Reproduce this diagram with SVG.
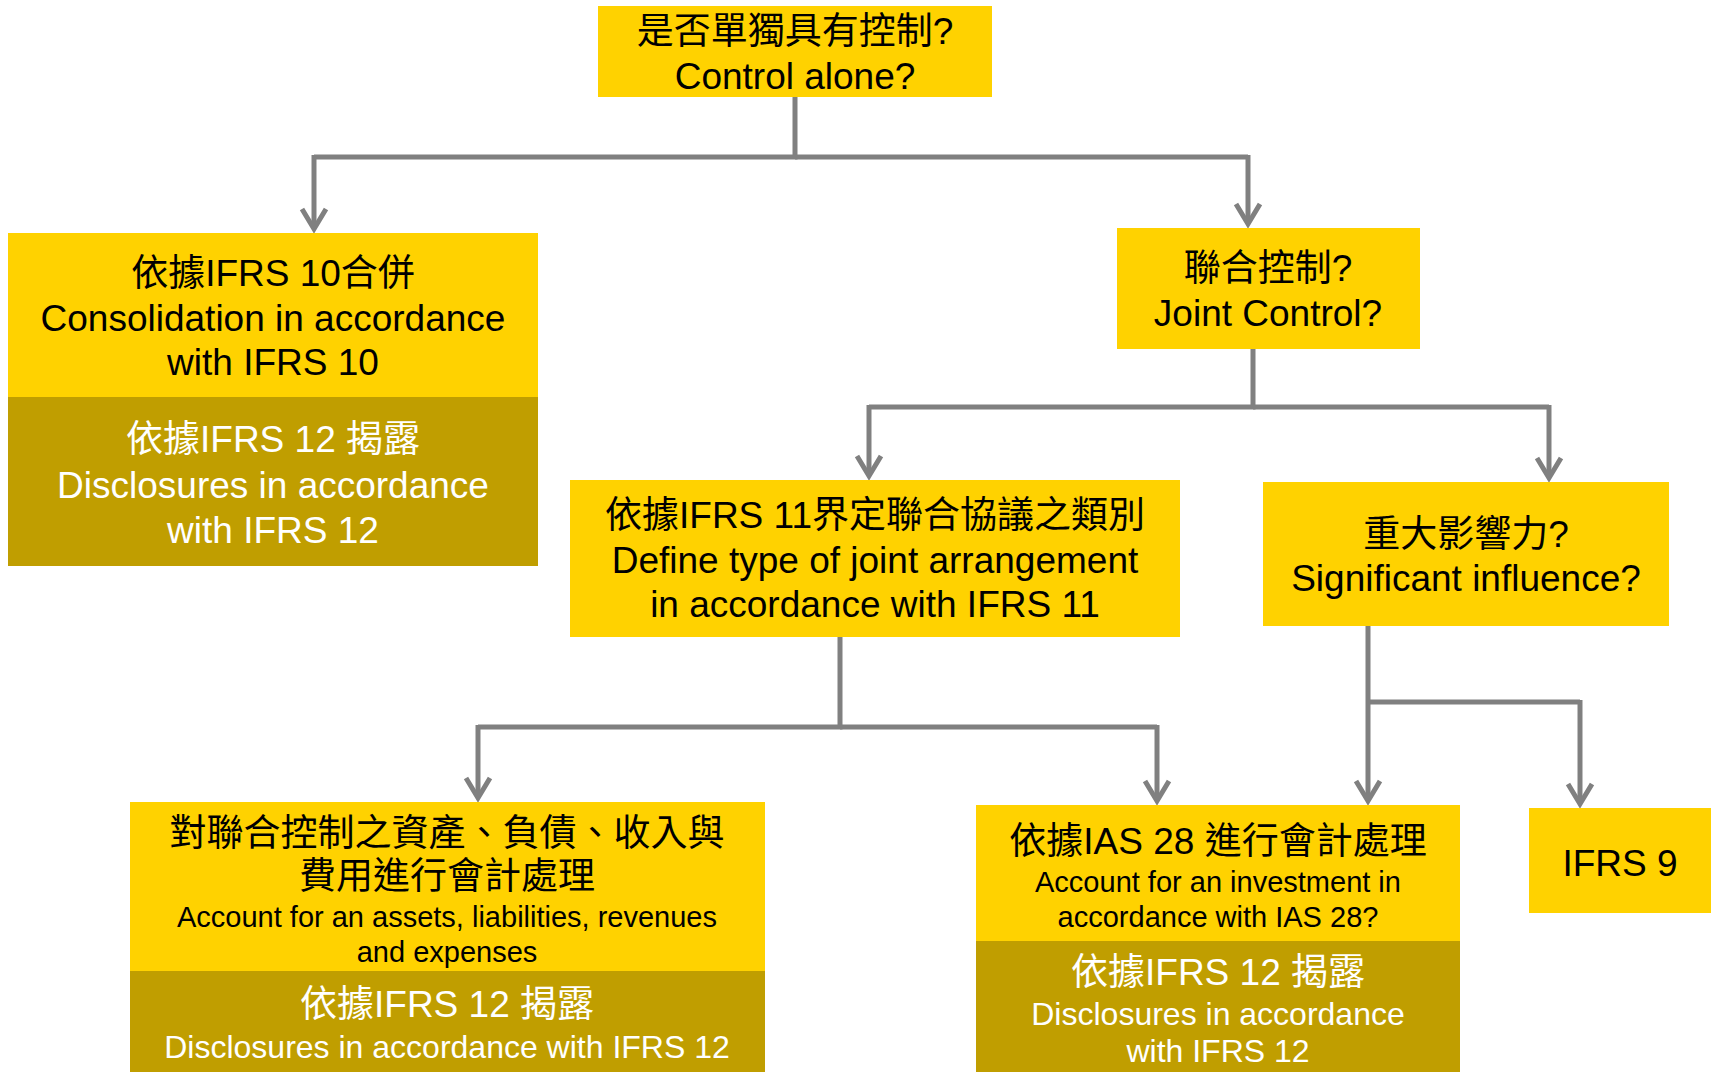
<svg xmlns="http://www.w3.org/2000/svg" width="1719" height="1072" viewBox="0 0 1719 1072">
  <style>
    .y { fill: #FFD200; }
    .d { fill: #C09E00; }
    text { font-family: "Liberation Sans", "Noto Sans CJK TC", sans-serif; text-anchor: middle; }
    .b { font-size: 37px; fill: #000000; }
    .w { font-size: 37px; fill: #FFFFFF; }
    .s { font-size: 29px; fill: #000000; }
    .ws { font-size: 32px; fill: #FFFFFF; }
    .c { fill: none; stroke: #808080; stroke-width: 5; stroke-linejoin: miter; marker-end: url(#arr); }
    .cn { fill: none; stroke: #808080; stroke-width: 5; }
  </style>
  <defs>
    <marker id="arr" markerUnits="userSpaceOnUse" orient="auto" refX="0" refY="0" markerWidth="30" markerHeight="30" viewBox="-24 -15 28 30" overflow="visible">
      <path d="M-20,-12 L0,0 L-20,12" fill="none" stroke="#808080" stroke-width="5" stroke-linejoin="miter"/>
    </marker>
  </defs>
  <rect width="1719" height="1072" fill="#FFFFFF"/>

  <g id="connectors">
    <path class="cn" d="M795,96 V157 H314"/>
    <path class="c" d="M314,155 V229"/>
    <path class="cn" d="M795,157 H1248"/>
    <path class="c" d="M1248,155 V224"/>
    <path class="cn" d="M1253,349 V407 H869"/>
    <path class="c" d="M869,405 V476"/>
    <path class="cn" d="M1253,407 H1549"/>
    <path class="c" d="M1549,405 V478"/>
    <path class="cn" d="M840,636 V727 H478"/>
    <path class="c" d="M478,725 V798"/>
    <path class="cn" d="M840,727 H1157"/>
    <path class="c" d="M1157,725 V801"/>
    <path class="c" d="M1368,626 V801"/>
    <path class="cn" d="M1368,702 H1580"/>
    <path class="c" d="M1580,700 V804"/>
  </g>

  <g id="control-alone">
    <rect class="y" x="598" y="6" width="394" height="91"/>
    <text class="b" x="795" y="44">是否單獨具有控制?</text>
    <text class="b" x="795" y="89">Control alone?</text>
  </g>

  <g id="consolidation">
    <rect class="y" x="8" y="233" width="530" height="164"/>
    <rect class="d" x="8" y="397" width="530" height="169"/>
    <text class="b" x="273" y="286">依據IFRS 10合併</text>
    <text class="b" x="273" y="331">Consolidation in accordance</text>
    <text class="b" x="273" y="375">with IFRS 10</text>
    <text class="w" x="273" y="452">依據IFRS 12 揭露</text>
    <text class="w" x="273" y="498">Disclosures in accordance</text>
    <text class="w" x="273" y="543">with IFRS 12</text>
  </g>

  <g id="joint-control">
    <rect class="y" x="1117" y="228" width="303" height="121"/>
    <text class="b" x="1268" y="281">聯合控制?</text>
    <text class="b" x="1268" y="326">Joint Control?</text>
  </g>

  <g id="define-type">
    <rect class="y" x="570" y="480" width="610" height="157"/>
    <text class="b" x="875" y="528">依據IFRS 11界定聯合協議之類別</text>
    <text class="b" x="875" y="573">Define type of joint arrangement</text>
    <text class="b" x="875" y="617">in accordance with IFRS 11</text>
  </g>

  <g id="significant-influence">
    <rect class="y" x="1263" y="482" width="406" height="144"/>
    <text class="b" x="1466" y="547">重大影響力?</text>
    <text class="b" x="1466" y="591">Significant influence?</text>
  </g>

  <g id="account-assets">
    <rect class="y" x="130" y="802" width="635" height="169"/>
    <rect class="d" x="130" y="971" width="635" height="101"/>
    <text class="b" x="447" y="846">對聯合控制之資產、負債、收入與</text>
    <text class="b" x="447" y="889">費用進行會計處理</text>
    <text class="s" x="447" y="927">Account for an assets, liabilities, revenues</text>
    <text class="s" x="447" y="962">and expenses</text>
    <text class="w" x="447" y="1017">依據IFRS 12 揭露</text>
    <text class="ws" x="447" y="1058">Disclosures in accordance with IFRS 12</text>
  </g>

  <g id="ias28">
    <rect class="y" x="976" y="805" width="484" height="136"/>
    <rect class="d" x="976" y="941" width="484" height="131"/>
    <text class="b" x="1218" y="854">依據IAS 28 進行會計處理</text>
    <text class="s" x="1218" y="892">Account for an investment in</text>
    <text class="s" x="1218" y="927">accordance with IAS 28?</text>
    <text class="w" x="1218" y="985">依據IFRS 12 揭露</text>
    <text class="ws" x="1218" y="1025">Disclosures in accordance</text>
    <text class="ws" x="1218" y="1062">with IFRS 12</text>
  </g>

  <g id="ifrs9">
    <rect class="y" x="1529" y="808" width="182" height="105"/>
    <text class="b" x="1620" y="876">IFRS 9</text>
  </g>
</svg>
